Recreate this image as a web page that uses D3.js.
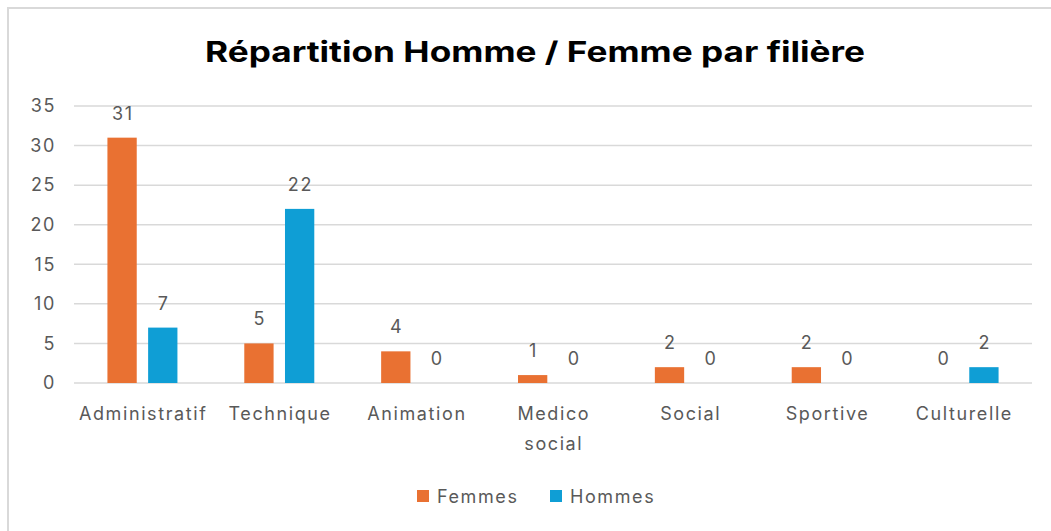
<!DOCTYPE html>
<html>
<head>
<meta charset="utf-8">
<script src="https://cdn.jsdelivr.net/npm/d3@7"></script>
<style>
  body { margin: 0; background: #fff; }
  svg { display: block; }
</style>
</head>
<body>
<svg width="1051" height="531"></svg>
<script>
// data
let categories = ["Administratif", "Technique", "Animation", "Medico social", "Social", "Sportive", "Culturelle"];
let femmes = [31, 5, 4, 1, 2, 2, 0];
let hommes = [7, 22, 0, 0, 0, 0, 2];
let seriesNames = ["Femmes", "Hommes"];
let yTicks = [0, 5, 10, 15, 20, 25, 30, 35];

let colors = ["#E97132", "#0F9ED5"];
let textColor = "#595959";
let fontFamily = "Inter, 'DejaVu Sans', sans-serif";
let spacing = 1.6;

let svg = d3.select("svg");
let width = +svg.attr("width");
let height = +svg.attr("height");
let margin = { top: 106, bottom: 148, left: 74, right: 19 };

// chart frame (top + left edges visible)
svg.append("rect")
    .attr("x", 8).attr("y", 8)
    .attr("width", width + 10).attr("height", height + 10)
    .attr("fill", "#fff")
    .attr("stroke", "#d9d9d9")
    .attr("stroke-width", 2);

svg.append("text")
    .attr("x", 535)
    .attr("y", 62)
    .attr("text-anchor", "middle")
    .attr("font-family", fontFamily)
    .attr("font-weight", "bold")
    .attr("font-size", 28)
    .attr("textLength", 660)
    .attr("lengthAdjust", "spacingAndGlyphs")
    .attr("fill", "#000")
    .text("Répartition Homme / Femme par filière");

let x = d3.scaleBand()
    .domain(categories)
    .range([margin.left, width - margin.right]);

let inner = d3.scaleBand()
    .domain(seriesNames)
    .range([x.bandwidth() / 2 - 35, x.bandwidth() / 2 + 35])
    .paddingInner(0.28);

let y = d3.scaleLinear()
    .domain([0, 35])
    .range([height - margin.bottom, margin.top]);

// gridlines
svg.append("g")
    .selectAll("line")
    .data(yTicks)
    .join("line")
        .attr("x1", margin.left)
        .attr("x2", width - margin.right)
        .attr("y1", d => y(d))
        .attr("y2", d => y(d))
        .attr("stroke", "#d9d9d9")
        .attr("stroke-width", 1.5);

// y axis labels
let yAxis = svg.append("g")
    .attr("transform", `translate(${margin.left - 18},0)`)
    .call(d3.axisLeft(y).tickValues(yTicks).tickSize(0).tickPadding(0));
yAxis.select(".domain").remove();
yAxis.selectAll("text")
    .attr("font-family", fontFamily)
    .attr("font-size", 18)
    .attr("letter-spacing", spacing)
    .attr("fill", textColor);

// bars
let rows = categories.map((c, i) => ({ cat: c, values: [femmes[i], hommes[i]] }));
let groups = svg.append("g")
    .selectAll("g")
    .data(rows)
    .join("g")
        .attr("transform", d => `translate(${x(d.cat)},0)`);

groups.selectAll("rect")
    .data(d => d.values.map((v, j) => ({ name: seriesNames[j], value: v, j })))
    .join("rect")
        .attr("x", d => inner(d.name))
        .attr("width", inner.bandwidth())
        .attr("y", d => y(d.value))
        .attr("height", d => y(0) - y(d.value))
        .attr("fill", d => colors[d.j]);

groups.selectAll("text.val")
    .data(d => d.values.map((v, j) => ({ name: seriesNames[j], value: v })))
    .join("text")
        .attr("class", "val")
        .attr("x", d => inner(d.name) + inner.bandwidth() / 2 + spacing / 2)
        .attr("y", d => y(d.value) - 18)
        .attr("text-anchor", "middle")
        .attr("font-family", fontFamily)
        .attr("font-size", 18)
        .attr("letter-spacing", spacing)
        .attr("fill", textColor)
        .text(d => d.value);

// category labels (wrap "Medico social")
let xLabels = svg.append("g")
    .selectAll("text")
    .data(categories)
    .join("text")
        .attr("y", y(0) + 37)
        .attr("text-anchor", "middle")
        .attr("font-family", fontFamily)
        .attr("font-size", 18)
        .attr("letter-spacing", spacing)
        .attr("fill", textColor);
xLabels.each(function(d) {
    let words = d === "Medico social" ? d.split(" ") : [d];
    d3.select(this).selectAll("tspan")
        .data(words)
        .join("tspan")
            .attr("x", x(d) + x.bandwidth() / 2 + spacing / 2)
            .attr("dy", (w, i) => i === 0 ? 0 : 30)
            .text(w => w);
});

// legend
let legendX = [417, 550];
let legend = svg.append("g")
    .selectAll("g")
    .data(seriesNames)
    .join("g")
        .attr("transform", (d, i) => `translate(${legendX[i]},490)`);
legend.append("rect")
    .attr("width", 12).attr("height", 12)
    .attr("fill", (d, i) => colors[i]);
legend.append("text")
    .attr("x", 20)
    .attr("y", 13)
    .attr("font-family", fontFamily)
    .attr("font-size", 18)
    .attr("letter-spacing", spacing)
    .attr("fill", textColor)
    .text(d => d);
</script>
</body>
</html>
